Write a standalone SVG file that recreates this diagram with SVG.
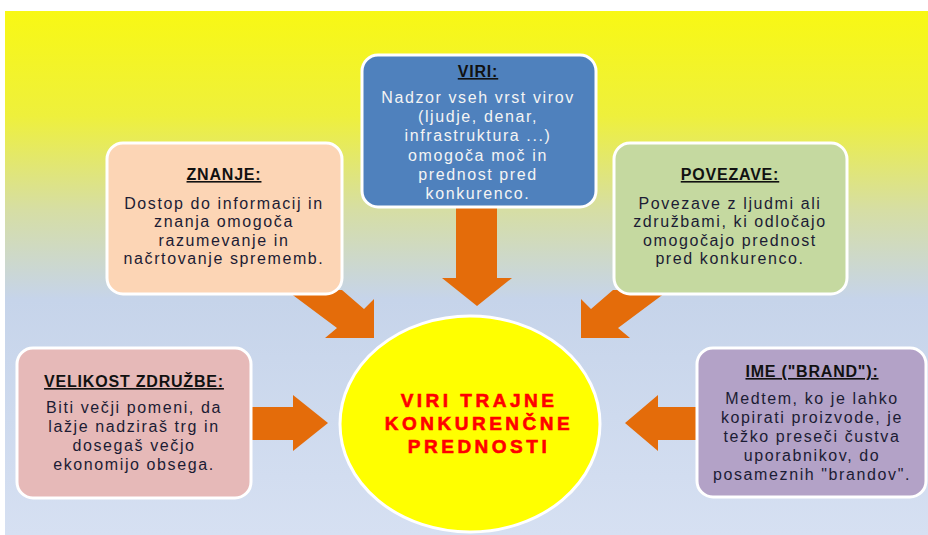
<svg xmlns="http://www.w3.org/2000/svg" width="928" height="535" viewBox="0 0 928 535">
  <defs>
    <linearGradient id="bg" x1="0" y1="0" x2="0" y2="1">
      <stop offset="0" stop-color="#F8F814"/>
      <stop offset="0.2" stop-color="#EEF03C"/>
      <stop offset="0.38" stop-color="#D6DEA4"/>
      <stop offset="0.55" stop-color="#C6D4EA"/>
      <stop offset="1" stop-color="#D6E0F2"/>
    </linearGradient>
    <style>
      .box { stroke: #FFFFFF; stroke-width: 3; }
      .arrow { fill: #E46C0A; }
      .title { font-family: "Liberation Sans", Arial, sans-serif; font-size: 16px; font-weight: bold; text-anchor: middle; text-decoration: underline; fill: #111111; letter-spacing: 0.8px; }
      .body { font-family: "Liberation Sans", Arial, sans-serif; font-size: 16px; text-anchor: middle; fill: #1C1C34; letter-spacing: 1.6px; }
      .white { fill: #F4F4F4; }
      .center { font-family: "Liberation Sans", Arial, sans-serif; font-size: 19px; font-weight: bold; text-anchor: middle; fill: #FF0000; stroke: #FF0000; stroke-width: 0.6; letter-spacing: 3.5px; }
    </style>
  </defs>

  <rect x="0" y="0" width="928" height="535" fill="#FFFFFF"/>
  <rect x="5" y="11" width="923" height="524" fill="url(#bg)"/>

  <g id="connectors">
    <!-- top: VIRI -> center -->
    <polygon class="arrow" points="456,200 497,200 497,278 512,278 477,306 442,278 456,278"/>
    <!-- left diagonal: ZNANJE -> center -->
    <polygon class="arrow" points="286,290 342,290 364,309 374,299 374,338 325,338 337,328"/>
    <!-- right diagonal: POVEZAVE -> center -->
    <polygon class="arrow" points="669,290 613,290 591,309 581,299 581,338 630,338 618,328"/>
    <!-- left horizontal: VELIKOST -> center -->
    <polygon class="arrow" points="248,407 293,407 293,395 328,423 293,451 293,440 248,440"/>
    <!-- right horizontal: IME -> center -->
    <polygon class="arrow" points="700,407 658,407 658,395 625,423 658,451 658,440 700,440"/>
  </g>

  <g id="node-znanje">
    <rect class="box" x="107" y="143" width="235" height="151" rx="16" fill="#FCD5B5"/>
    <text class="title" x="224" y="180">ZNANJE:</text>
    <text class="body" x="224" y="208.5">Dostop do informacij in</text>
    <text class="body" x="224" y="227">znanja omogoča</text>
    <text class="body" x="224" y="245.5">razumevanje in</text>
    <text class="body" x="224" y="264">načrtovanje sprememb.</text>
  </g>

  <g id="node-viri">
    <rect class="box" x="362" y="55" width="234" height="152" rx="16" fill="#4F81BD"/>
    <text class="title" x="478" y="77">VIRI:</text>
    <text class="body white" x="478" y="103">Nadzor vseh vrst virov</text>
    <text class="body white" x="478" y="122.2">(ljudje, denar,</text>
    <text class="body white" x="478" y="141.4">infrastruktura ...)</text>
    <text class="body white" x="478" y="160.6">omogoča moč in</text>
    <text class="body white" x="478" y="179.8">prednost pred</text>
    <text class="body white" x="478" y="199">konkurenco.</text>
  </g>

  <g id="node-povezave">
    <rect class="box" x="614" y="143" width="233" height="151" rx="16" fill="#C5D9A0"/>
    <text class="title" x="730" y="180">POVEZAVE:</text>
    <text class="body" x="730" y="208.5">Povezave z ljudmi ali</text>
    <text class="body" x="730" y="227">združbami, ki odločajo</text>
    <text class="body" x="730" y="245.5">omogočajo prednost</text>
    <text class="body" x="730" y="264">pred konkurenco.</text>
  </g>

  <g id="node-velikost">
    <rect class="box" x="17" y="348" width="234" height="150" rx="16" fill="#E6B9B8"/>
    <text class="title" x="134" y="387">VELIKOST ZDRUŽBE:</text>
    <text class="body" x="134" y="413">Biti večji pomeni, da</text>
    <text class="body" x="134" y="432">lažje nadziraš trg in</text>
    <text class="body" x="134" y="451">dosegaš večjo</text>
    <text class="body" x="134" y="469.5">ekonomijo obsega.</text>
  </g>

  <g id="node-ime">
    <rect class="box" x="697" y="348" width="229" height="149" rx="16" fill="#B3A2C7"/>
    <text class="title" x="812" y="377">IME ("BRAND"):</text>
    <text class="body" x="812" y="404">Medtem, ko je lahko</text>
    <text class="body" x="812" y="423">kopirati proizvode, je</text>
    <text class="body" x="812" y="442">težko preseči čustva</text>
    <text class="body" x="812" y="461">uporabnikov, do</text>
    <text class="body" x="812" y="480">posameznih "brandov".</text>
  </g>

  <g id="node-center">
    <ellipse cx="470" cy="424" rx="130" ry="108" fill="#FFFF00" stroke="#FFFFFF" stroke-width="3"/>
    <text class="center" x="479" y="407">VIRI TRAJNE</text>
    <text class="center" x="479" y="430">KONKURENČNE</text>
    <text class="center" x="479" y="453">PREDNOSTI</text>
  </g>
</svg>
